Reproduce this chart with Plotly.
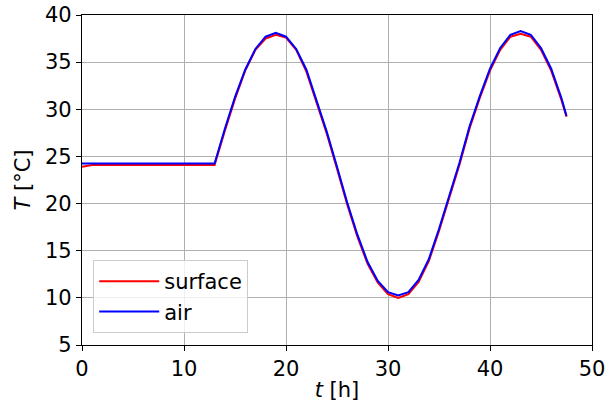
import plotly.graph_objects as go

# Time axis in hours (hourly samples, last sample at 47.5 h)
t_hours = list(range(0, 48)) + [47.5]

# Air temperature [°C]
air_temp = [
    24.25, 24.25, 24.25, 24.25, 24.25, 24.25, 24.25, 24.25, 24.25, 24.25,
    24.25, 24.25, 24.25, 24.25,
    27.9, 31.3, 34.2, 36.4, 37.7, 38.1, 37.7, 36.4, 34.2, 31.0,
    27.6, 23.9, 20.1, 16.7, 13.8, 11.8, 10.6, 10.25, 10.6, 11.9,
    14.1, 17.3, 20.8, 24.3, 28.2, 31.4, 34.3, 36.5, 37.9, 38.3,
    37.9, 36.5, 34.3, 31.2, 29.3,
]

# Surface temperature [°C]
surface_temp = [
    23.9, 24.1, 24.1, 24.1, 24.1, 24.1, 24.1, 24.1, 24.1, 24.1,
    24.1, 24.1, 24.1, 24.1,
    27.7, 31.1, 34.1, 36.3, 37.5, 37.9, 37.6, 36.3, 34.0, 30.8,
    27.4, 23.7, 19.9, 16.5, 13.6, 11.6, 10.4, 10.0, 10.4, 11.7,
    13.9, 17.1, 20.6, 24.1, 28.0, 31.2, 34.1, 36.3, 37.7, 38.0,
    37.7, 36.3, 34.1, 31.0, 29.2,
]

x_ticks = [0, 10, 20, 30, 40, 50]
y_ticks = [5, 10, 15, 20, 25, 30, 35, 40]

FONT = "DejaVu Sans"
SIZE = 21

fig = go.Figure()
fig.add_trace(go.Scatter(x=t_hours, y=surface_temp, mode="lines", name="surface",
                         line=dict(color="red", width=2)))
fig.add_trace(go.Scatter(x=t_hours, y=air_temp, mode="lines", name="air",
                         line=dict(color="blue", width=2)))

axis_common = dict(
    showline=True, linecolor="black", linewidth=1.2, mirror=True,
    ticks="outside", ticklen=5, tickwidth=1, tickcolor="black",
    showgrid=True, gridcolor="#b0b0b0", gridwidth=1, zeroline=False,
    automargin=False, ticklabeloverflow="allow",
    tickfont=dict(family=FONT, size=SIZE, color="black"),
)

fig.update_layout(
    width=605, height=410,
    margin=dict(l=82, r=13, t=15, b=65),
    paper_bgcolor="white", plot_bgcolor="white",
    font=dict(family=FONT, color="black"),
    xaxis=dict(range=[0, 50], tickvals=x_ticks,
               title=dict(text="<i>t</i> [h]", font=dict(size=SIZE), standoff=2),
               **axis_common),
    yaxis=dict(range=[5, 40], tickvals=y_ticks,
               title=dict(text="<i>T</i> [°C]", font=dict(size=SIZE), standoff=8),
               **axis_common),
    legend=dict(x=0.022, y=0.036, xanchor="left", yanchor="bottom",
                bgcolor="rgba(255,255,255,0.8)", bordercolor="#cccccc", borderwidth=1,
                font=dict(family=FONT, size=SIZE), itemwidth=60),
    showlegend=True,
)

fig.write_html("out.html")
